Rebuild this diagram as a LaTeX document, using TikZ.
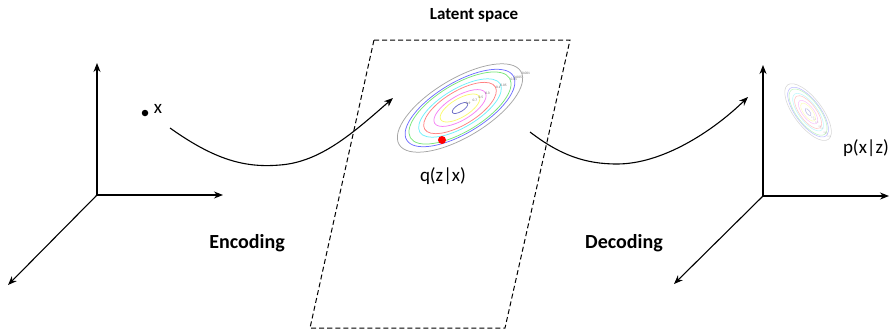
\documentclass[tikz,border=0pt]{standalone}
\usepackage{fontspec}
\setmainfont{Carlito}
\usetikzlibrary{arrows.meta,calc}
\begin{document}
\begin{tikzpicture}[x=1pt,y=-1pt,
  axis/.style={line width=1.1pt,-{Stealth[length=9pt,width=7pt]}},
  flow/.style={line width=1.1pt,-{Stealth[length=9pt,width=7pt]}},
  lbl/.style={font=\fontsize{19}{21}\selectfont,inner sep=0pt},
  bold/.style={font=\fontsize{20}{22}\selectfont\bfseries,inner sep=0pt},
  tinylbl/.style={font=\fontsize{3.5}{3.5}\selectfont,text=black!60,inner sep=0pt},
  cont/.style={line width=0.75pt}]
\useasboundingbox (0,0) rectangle (893,330);
\definecolor{cgray}{RGB}{165,165,165}
\definecolor{cblue}{RGB}{110,110,255}
\definecolor{cgreen}{RGB}{120,230,120}
\definecolor{ccyan}{RGB}{110,240,250}
\definecolor{cred}{RGB}{255,130,130}
\definecolor{cmag}{RGB}{245,130,245}
\definecolor{cyel}{RGB}{250,250,110}
\definecolor{cinn}{RGB}{110,110,200}

% left axes
\coordinate (LO) at (97,195);
\coordinate (LU) at (97,63);
\coordinate (LR) at (223,195);
\coordinate (LD) at (8,285);
\draw[axis] (LO) -- (LU);
\draw[axis] (LO) -- (LR);
\draw[axis] (LO) -- (LD);

% point x
\node[circle,fill=black,inner sep=0pt,minimum size=6.5pt] (px) at (145,113) {};
\node[lbl] (xl) at (158,109) {x};

% right axes
\coordinate (RO) at (763,196);
\coordinate (RU) at (763,65);
\coordinate (RR) at (889,196);
\coordinate (RD) at (674,284);
\draw[axis] (RO) -- (RU);
\draw[axis] (RO) -- (RR);
\draw[axis] (RO) -- (RD);

% latent space parallelogram
\coordinate (P1) at (374,40);
\coordinate (P2) at (570,40);
\coordinate (P3) at (505,328);
\coordinate (P4) at (310,328);
\draw[line width=1pt,dash pattern=on 5pt off 3pt] (P1) -- (P2) -- (P3) -- (P4) -- cycle;
\node[bold,font=\fontsize{17}{19}\selectfont\bfseries] (lat) at (474,15) {Latent space};

% contours q(z|x)
\coordinate (C) at (460,108);
\foreach \s/\col in {1/cgray,0.876/cblue,0.815/cgreen,0.66/ccyan,0.58/cred,0.417/cmag,0.317/cyel,0.124/cinn}{
  \draw[cont,\col,rotate around={31:(C)}] (C) ellipse [x radius=71*\s, y radius=29*\s];
}
\foreach \s/\t in {1/0.001,0.876/0.005,0.815/0.01,0.66/0.05,0.58/0.1,0.417/0.3,0.317/0.5,0.226/0.7,0.124/0.9}{
  \node[tinylbl] at ($(C)+(\s*66,-\s*35)$) {\t};
}
\node[circle,fill=red,inner sep=0pt,minimum size=8pt] (zd) at (442,140) {};
\node[lbl] (q) at (443,176) {q(z|x)};

% contours p(x|z)
\coordinate (D) at (808,112);
\begin{scope}[opacity=0.45]
\foreach \s/\col in {1/cgray,0.876/cblue,0.815/cgreen,0.66/ccyan,0.58/cred,0.417/cmag,0.317/cyel,0.124/cinn}{
  \draw[line width=0.55pt,\col,rotate around={-53:(D)}] (D) ellipse [x radius=34*\s, y radius=14*\s];
}
\foreach \s in {1,0.876,0.815,0.66,0.58,0.417,0.317,0.226}{
  \node[font=\fontsize{2.5}{2.5}\selectfont,text=gray,inner sep=0pt] at ($(D)+(\s*21,\s*25)$) {0.0};
}
\end{scope}
\node[lbl] (p) at (866,148) {p(x|z)};

% encoding / decoding curves
\coordinate (E1) at (170,128);
\coordinate (E2) at (280,165);
\coordinate (E3) at (393,98);
\draw[flow] (E1) .. controls (215,160) and (245,168) .. (E2) .. controls (320,162) and (352,134) .. (E3);
\coordinate (F1) at (530,132);
\coordinate (F2) at (617,164);
\coordinate (F3) at (748,97);
\draw[flow] (F1) .. controls (560,155) and (585,164) .. (F2) .. controls (662,164) and (712,132) .. (F3);

\node[bold] (enc) at (247,243) {Encoding};
\node[bold] (dec) at (624,243) {Decoding};
\end{tikzpicture}
\end{document}
